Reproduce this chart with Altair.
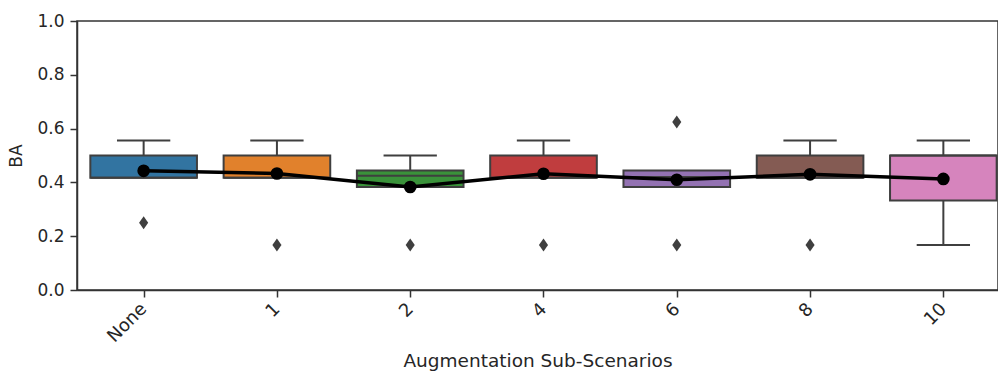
import json
import altair as alt
import pandas as pd

# ---- data ----
categories = ["None", "1", "2", "4", "6", "8", "10"]
q1 = [0.417, 0.417, 0.383, 0.417, 0.383, 0.417, 0.333]
q3 = [0.500, 0.500, 0.444, 0.500, 0.444, 0.500, 0.500]
median = [0.417, 0.417, 0.425, 0.417, 0.420, 0.417, 0.500]
whisker_lo = [0.417, 0.417, 0.383, 0.417, 0.383, 0.417, 0.167]
whisker_hi = [0.556, 0.556, 0.500, 0.556, 0.444, 0.556, 0.556]
means = [0.443, 0.433, 0.383, 0.432, 0.410, 0.430, 0.413]
outlier_cat = ["None", "1", "2", "4", "6", "6", "8"]
outlier_val = [0.250, 0.167, 0.167, 0.167, 0.167, 0.625, 0.167]
colors = ["#3274a1", "#e1812c", "#3a923a", "#c03d3e", "#9372b2", "#845b53", "#d684bd"]

idx = list(range(len(categories)))
box_df = pd.DataFrame({
    "i": idx, "cat": categories, "q1": q1, "q3": q3, "med": median,
    "lo": whisker_lo, "hi": whisker_hi, "mean": means,
})
half_box = 0.4
half_cap = 0.2
box_df["left"] = box_df["i"] - half_box
box_df["right"] = box_df["i"] + half_box
box_df["capl"] = box_df["i"] - half_cap
box_df["capr"] = box_df["i"] + half_cap

out_df = pd.DataFrame({
    "i": [categories.index(c) for c in outlier_cat],
    "val": outlier_val,
})

EDGE = "#3f3f3f"
FONT = "DejaVu Sans"

xscale = alt.Scale(domain=[-0.5, 6.41], nice=False, zero=False)
yscale = alt.Scale(domain=[0, 1], nice=False, zero=False)

xaxis = alt.Axis(
    values=idx,
    labelExpr=f"{json.dumps(categories)}[datum.value]",
    title="Augmentation Sub-Scenarios",
    labelAngle=-45, labelAlign="right", labelBaseline="middle",
    labelPadding=9, labelFontSize=18, titleFontSize=18.5, titlePadding=6,
)
yaxis = alt.Axis(values=[0, 0.2, 0.4, 0.6, 0.8, 1.0], format=".1f", title="BA",
                 titlePadding=11, labelPadding=6)

base = alt.Chart(box_df)
color = alt.Color("cat:N", scale=alt.Scale(domain=categories, range=colors), legend=None)

boxes = base.mark_bar(stroke=EDGE, strokeWidth=2).encode(
    x=alt.X("left:Q", scale=xscale, axis=xaxis),
    x2="right:Q",
    y=alt.Y("q1:Q", scale=yscale, axis=yaxis),
    y2="q3:Q",
    color=color,
)
med_rule = base.mark_rule(color=EDGE, strokeWidth=2).encode(
    x="left:Q", x2="right:Q", y="med:Q")
up_whisk = base.transform_filter("datum.hi > datum.q3").mark_rule(color=EDGE, strokeWidth=2).encode(
    x="i:Q", y="q3:Q", y2="hi:Q")
up_cap = base.transform_filter("datum.hi > datum.q3").mark_rule(color=EDGE, strokeWidth=2).encode(
    x="capl:Q", x2="capr:Q", y="hi:Q")
lo_whisk = base.transform_filter("datum.lo < datum.q1").mark_rule(color=EDGE, strokeWidth=2).encode(
    x="i:Q", y="lo:Q", y2="q1:Q")
lo_cap = base.transform_filter("datum.lo < datum.q1").mark_rule(color=EDGE, strokeWidth=2).encode(
    x="capl:Q", x2="capr:Q", y="lo:Q")

outliers = alt.Chart(out_df).mark_point(
    shape="M0,-1L0.7,0L0,1L-0.7,0Z", filled=True, color=EDGE, size=169, opacity=1
).encode(x="i:Q", y="val:Q")

mean_line = base.mark_line(color="black", strokeWidth=3.5).encode(x="i:Q", y="mean:Q")
mean_pts = base.mark_circle(color="black", size=160, opacity=1).encode(x="i:Q", y="mean:Q")

chart = alt.layer(
    boxes, med_rule, up_whisk, up_cap, lo_whisk, lo_cap, outliers, mean_line, mean_pts
).properties(
    width=921, height=269,
    autosize=alt.AutoSizeParams(type="none"),
    padding={"left": 77, "top": 21, "right": 0, "bottom": 83},
    background="white",
).configure_view(
    stroke="#333333", strokeWidth=1.5
).configure_axis(
    grid=False,
    domainColor="#333333", domainWidth=1.5,
    tickColor="#333333", tickWidth=1.5, tickSize=7,
    labelFont=FONT, labelFontSize=17, labelColor="#262626",
    titleFont=FONT, titleFontSize=17, titleFontWeight="normal", titleColor="#262626",
)

chart.save("out.html", embed_options={"renderer": "svg", "actions": False})
